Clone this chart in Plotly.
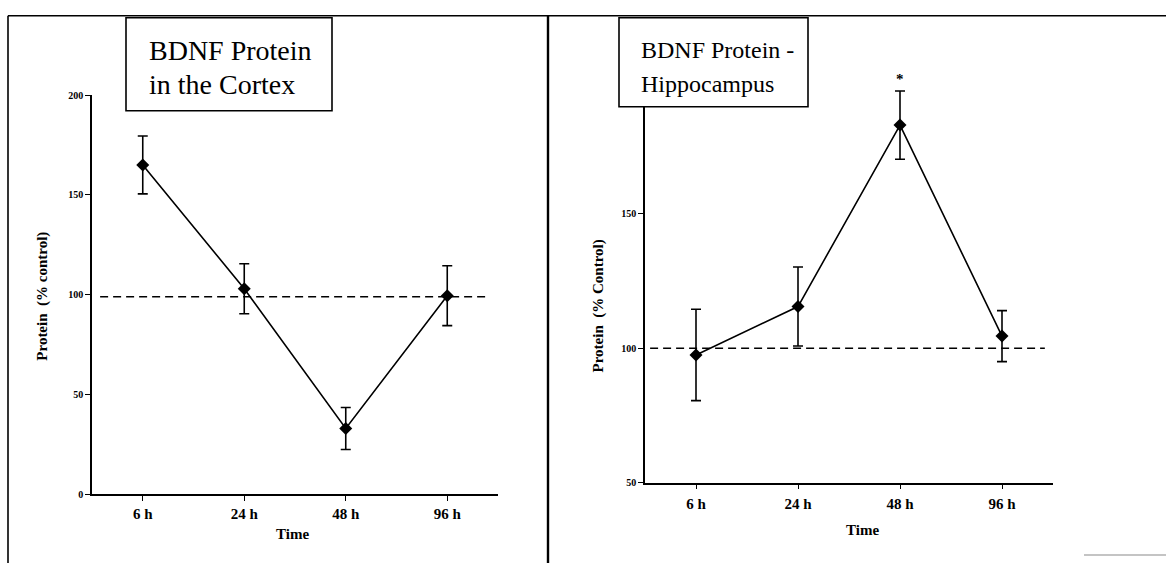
import plotly.graph_objects as go

W, H = 1166, 563

# ---- data ----
times = ["6 h", "24 h", "48 h", "96 h"]
cortex_mean = [165, 103, 33, 99.5]
cortex_err = [14.5, 12.5, 10.5, 15]
hippo_mean = [97.5, 115.5, 183, 104.5]
hippo_err = [17, 14.7, 12.7, 9.5]
cortex_ref = 99
hippo_ref = 100
cortex_yticks = [0, 50, 100, 150, 200]
hippo_yticks = [50, 100, 150]

SERIF = "Liberation Serif"

def px(x):
    return x / W

def py(y):
    return 1 - y / H

fig = go.Figure()

for vals, errs, xa, ya in [(cortex_mean, cortex_err, "x", "y"), (hippo_mean, hippo_err, "x2", "y2")]:
    fig.add_trace(go.Scatter(
        x=times, y=vals, xaxis=xa, yaxis=ya, mode="lines+markers",
        line=dict(color="black", width=1.6),
        marker=dict(symbol="diamond", size=10, color="black"),
        error_y=dict(type="data", array=errs, visible=True, color="black", thickness=1.6, width=5),
        showlegend=False, hoverinfo="skip",
    ))

axis_common = dict(showline=True, linecolor="black", linewidth=1.6, ticks="outside",
                   ticklen=5, tickcolor="black", tickwidth=1.4, showgrid=False, zeroline=False)

fig.update_layout(
    width=W, height=H, autosize=False,
    margin=dict(l=0, r=0, t=0, b=0),
    paper_bgcolor="white", plot_bgcolor="white",
    xaxis=dict(domain=[px(92), px(498)], anchor="y", type="category", range=[-0.5, 3.5],
               tickfont=dict(family=SERIF, size=15, color="black", weight="bold"), **axis_common),
    yaxis=dict(domain=[py(499), py(91)], anchor="x", range=[0, 200], tickvals=cortex_yticks,
               tickfont=dict(family=SERIF, size=10, color="black", weight="bold"), **axis_common),
    xaxis2=dict(domain=[px(645), px(1053)], anchor="y2", type="category", range=[-0.5, 3.5],
                ticklabelstandoff=2,
                tickfont=dict(family=SERIF, size=15, color="black", weight="bold"), **axis_common),
    yaxis2=dict(domain=[py(487), py(75)], anchor="x2", range=[50, 200], tickvals=hippo_yticks,
                tickfont=dict(family=SERIF, size=10, color="black", weight="bold"), **axis_common),
)

shapes = []
# dashed control lines
shapes.append(dict(type="line", xref="x", yref="y", x0=-0.42, x1=3.42, y0=cortex_ref, y1=cortex_ref,
                   line=dict(color="black", width=1.5, dash="8px,5px")))
shapes.append(dict(type="line", xref="x2", yref="y2", x0=-0.45, x1=3.42, y0=hippo_ref, y1=hippo_ref,
                   line=dict(color="black", width=1.5, dash="8px,5px")))
# frame lines
shapes.append(dict(type="line", xref="paper", yref="paper", x0=px(8), x1=px(1166), y0=py(10), y1=py(10),
                   line=dict(color="black", width=1.6)))
shapes.append(dict(type="line", xref="paper", yref="paper", x0=px(8), x1=px(8), y0=py(10), y1=py(570),
                   line=dict(color="black", width=1.6)))
shapes.append(dict(type="line", xref="paper", yref="paper", x0=px(548), x1=px(548), y0=py(10), y1=py(570),
                   line=dict(color="black", width=2.4)))
shapes.append(dict(type="line", xref="paper", yref="paper", x0=px(1084), x1=px(1166), y0=py(561), y1=py(561),
                   line=dict(color="#b0b0b0", width=1.5)))
# title boxes
shapes.append(dict(type="rect", xref="paper", yref="paper", x0=px(126), x1=px(332), y0=py(107), y1=py(12),
                   fillcolor="white", line=dict(color="black", width=1.6), layer="above"))
shapes.append(dict(type="rect", xref="paper", yref="paper", x0=px(619), x1=px(808), y0=py(103), y1=py(12),
                   fillcolor="white", line=dict(color="black", width=1.6), layer="above"))
fig.update_layout(shapes=shapes)

ann = []
title_lines = [
    ("BDNF Protein", 147, 45, 28),
    ("in the Cortex", 147, 80, 28),
    ("BDNF Protein -", 639, 45, 24),
    ("Hippocampus", 639, 80, 24),
]
for txt, x, y, sz in title_lines:
    ann.append(dict(xref="paper", yref="paper", x=px(x), y=py(y), xanchor="left", yanchor="middle",
                    text=txt, showarrow=False, font=dict(family=SERIF, size=sz, color="black")))
# axis titles
ann.append(dict(xref="paper", yref="paper", x=px(43), y=py(297), xanchor="center", yanchor="middle",
                text="Protein&nbsp;&nbsp;(% control)", textangle=-90, showarrow=False,
                font=dict(family=SERIF, size=15, color="black", weight="bold")))
ann.append(dict(xref="paper", yref="paper", x=px(598), y=py(306), xanchor="center", yanchor="middle",
                text="Protein&nbsp;&nbsp;(% Control)", textangle=-90, showarrow=False,
                font=dict(family=SERIF, size=15, color="black", weight="bold")))
ann.append(dict(xref="paper", yref="paper", x=px(292), y=py(540), xanchor="center", yanchor="middle",
                text="Time", showarrow=False, font=dict(family=SERIF, size=15, color="black", weight="bold")))
ann.append(dict(xref="paper", yref="paper", x=px(862), y=py(535), xanchor="center", yanchor="middle",
                text="Time", showarrow=False, font=dict(family=SERIF, size=15, color="black", weight="bold")))
# significance marker
ann.append(dict(xref="x2", yref="y2", x="48 h", y=hippo_mean[2] + hippo_err[2], xanchor="center",
                yanchor="bottom", yshift=2, text="*", showarrow=False,
                font=dict(family=SERIF, size=15, color="black", weight="bold")))
fig.update_layout(annotations=ann)

fig.write_html("out.html", config={"displayModeBar": False},
               post_script="document.body.style.margin='0';document.body.style.overflow='hidden';")
